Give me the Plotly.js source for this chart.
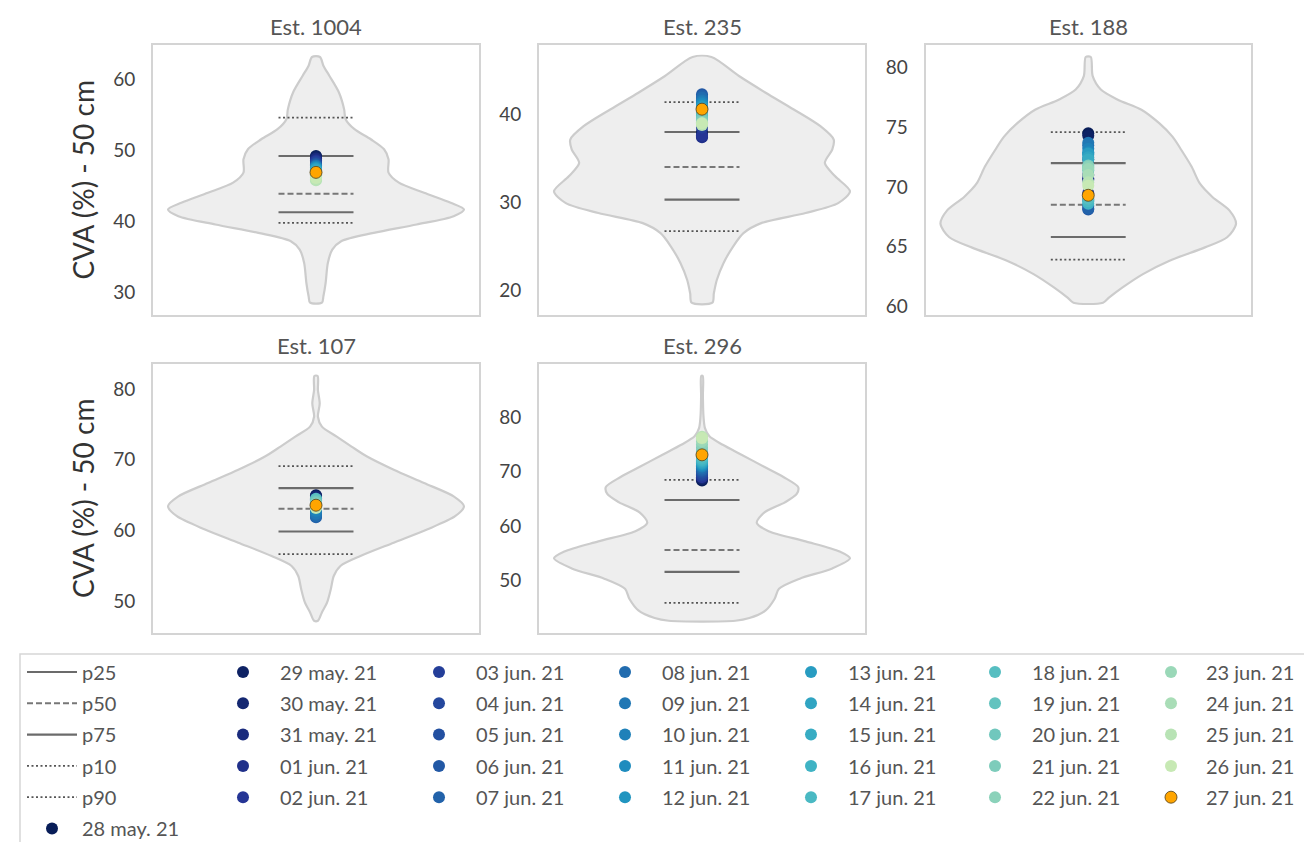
<!DOCTYPE html>
<html>
<head>
<meta charset="utf-8">
<script src="https://cdn.plot.ly/plotly-3.0.1.min.js"></script>
<style>
  html, body { margin: 0; padding: 0; background: #ffffff; }
  #chart { width: 1304px; height: 842px; }
</style>
</head>
<body>
<div id="chart"></div>
<script>
// ---- Stations and observation dates ----
const stations = ['Est. 1004', 'Est. 235', 'Est. 188', 'Est. 107', 'Est. 296'];
const dates = [
  '28 may. 21', '29 may. 21', '30 may. 21', '31 may. 21', '01 jun. 21', '02 jun. 21',
  '03 jun. 21', '04 jun. 21', '05 jun. 21', '06 jun. 21', '07 jun. 21',
  '08 jun. 21', '09 jun. 21', '10 jun. 21', '11 jun. 21', '12 jun. 21',
  '13 jun. 21', '14 jun. 21', '15 jun. 21', '16 jun. 21', '17 jun. 21',
  '18 jun. 21', '19 jun. 21', '20 jun. 21', '21 jun. 21', '22 jun. 21',
  '23 jun. 21', '24 jun. 21', '25 jun. 21', '26 jun. 21', '27 jun. 21'
];

// ---- Historical percentiles of CVA (%) at 50 cm, one value per station ----
const p10 = [39.8, 26.7, 63.9, 56.7, 45.9];
const p25 = [41.3, 30.3, 65.8, 59.9, 51.6];
const p50 = [43.9, 34.0, 68.5, 63.1, 55.6];
const p75 = [49.2, 38.0, 72.0, 66.0, 64.8];
const p90 = [54.6, 41.4, 74.6, 69.1, 68.5];

// ---- Daily CVA (%) per station, 28 may. 21 -> 27 jun. 21 ----
const cva1004 = [49.2, 49.1, 48.9, 48.8, 48.6, 48.5, 48.4, 48.2, 48.1, 48.0, 47.9,
                 47.8, 47.8, 47.7, 47.6, 47.5, 47.4, 47.3, 47.1, 47.0, 46.9,
                 46.8, 46.6, 46.5, 46.3, 46.2, 46.0, 45.9, 45.8, 46.1, 46.9];
const cva235  = [38.0, 37.8, 37.6, 37.5, 37.4, 37.6, 38.5, 40.2, 41.8, 42.3, 42.1,
                 41.9, 41.6, 41.4, 41.2, 41.0, 40.9, 40.7, 40.5, 40.3, 40.1,
                 39.9, 39.7, 39.5, 39.3, 39.1, 39.0, 38.9, 38.8, 39.0, 40.6];
const cva188  = [74.5, 74.3, 72.3, 70.7, 71.0, 70.6, 69.5, 68.9, 68.4, 68.1, 68.2,
                 73.5, 73.7, 73.2, 72.9, 72.7, 72.8, 72.5, 72.3, 68.6, 68.8,
                 69.0, 71.4, 71.6, 71.8, 71.7, 71.5, 71.0, 70.4, 70.1, 69.3];
const cva107  = [65.0, 64.9, 64.8, 64.6, 64.4, 64.2, 63.8, 62.9, 62.3, 62.0, 61.9,
                 62.1, 62.4, 62.8, 63.1, 63.4, 63.7, 63.9, 64.1, 64.3, 64.4,
                 64.5, 64.3, 64.1, 63.9, 63.7, 63.5, 63.4, 63.2, 63.3, 63.6];
const cva296  = [68.4, 68.6, 68.8, 69.0, 69.2, 69.0, 69.3, 69.5, 69.8, 70.1, 70.3,
                 70.6, 70.9, 71.0, 71.2, 71.4, 71.5, 71.7, 71.9, 72.1, 72.4,
                 72.8, 73.3, 73.8, 74.4, 75.0, 75.6, 76.1, 76.4, 76.2, 73.1];

// ---- Historical distribution (kernel density) per station: CVA level and relative density ----
const kdeLevels1004  = [63.1, 61.88, 60.47, 58.12, 55.77, 54.37, 52.96, 51.55, 50.14, 48.73, 46.86,
                        45.45, 44.04, 42.63, 41.69, 40.75, 39.58, 38.4, 37.23, 36.06, 34.18, 31.37, 29.5, 28.6];
const kdeDensity1004 = [0.027, 0.05, 0.09, 0.155, 0.19, 0.20, 0.26, 0.37, 0.46, 0.49, 0.49,
                        0.56, 0.73, 0.91, 1.0, 0.93, 0.68, 0.39, 0.17, 0.11, 0.08, 0.065, 0.05, 0.04];

const kdeLevels235   = [46.55, 44.38, 42.48, 40.57, 38.66, 37.14, 36.0, 34.48, 32.95, 31.24,
                        29.9, 28.77, 27.62, 26.48, 24.95, 23.05, 21.14, 19.62, 18.55];
const kdeDensity235  = [0.064, 0.25, 0.43, 0.62, 0.80, 0.89, 0.88, 0.83, 0.90, 1.0,
                        0.92, 0.70, 0.40, 0.28, 0.21, 0.145, 0.10, 0.08, 0.07];

const kdeLevels188   = [80.9, 79.29, 78.17, 77.32, 76.48, 75.35, 74.22, 73.1, 71.69, 70.29,
                        69.16, 68.03, 66.91, 65.78, 64.93, 63.81, 62.69, 61.55, 60.71, 60.29];
const kdeDensity188  = [0.017, 0.03, 0.085, 0.20, 0.36, 0.48, 0.57, 0.63, 0.70, 0.755,
                        0.84, 0.955, 1.0, 0.94, 0.79, 0.55, 0.37, 0.23, 0.14, 0.10];

const kdeLevels107   = [81.82, 79.82, 77.95, 76.07, 74.67, 73.27, 71.87, 70.46, 68.6, 66.73, 64.85,
                        63.45, 62.05, 60.18, 58.32, 56.44, 55.04, 53.63, 51.77, 49.9, 48.5, 47.32];
const kdeDensity107  = [0.011, 0.013, 0.025, 0.013, 0.04, 0.14, 0.24, 0.345, 0.525, 0.73, 0.93,
                        1.0, 0.94, 0.75, 0.525, 0.30, 0.165, 0.12, 0.10, 0.075, 0.04, 0.013];

const kdeLevels296   = [87.6, 83.9, 80.2, 78.0, 76.5, 74.95, 73.08, 70.9, 69.03, 67.16, 65.92,
                        64.36, 62.49, 60.62, 59.07, 57.2, 55.33, 54.08, 52.21, 50.34, 48.47,
                        46.6, 44.5, 43.1, 42.6];
const kdeDensity296  = [0.005, 0.006, 0.01, 0.02, 0.05, 0.14, 0.27, 0.42, 0.55, 0.65, 0.64,
                        0.56, 0.42, 0.37, 0.45, 0.70, 0.93, 1.0, 0.88, 0.66, 0.52,
                        0.49, 0.43, 0.32, 0.225];

// ---- Assemble per-station series ----
const dailyValues = [cva1004, cva235, cva188, cva107, cva296];
const kdeLevels   = [kdeLevels1004, kdeLevels235, kdeLevels188, kdeLevels107, kdeLevels296];
const kdeDensity  = [kdeDensity1004, kdeDensity235, kdeDensity188, kdeDensity107, kdeDensity296];
const tickSteps   = [10, 10, 5, 10, 10];

// ---- Styling ----
const FONT = 'Lato, "Open Sans", sans-serif';
const W = 1304, H = 842;
const VIOLIN_HALF = 0.454;   // half width of the widest part of a violin (x units)
const PCT_HALF = 0.115;      // half length of percentile bars (x units)

// panel frames in pixels [left, right, top, bottom]
const frames = [
  [153, 479, 44.7, 315], [539, 865, 44.7, 315], [925.5, 1251, 44.7, 315],
  [153, 479, 363.7, 633], [539, 865, 363.7, 633]
];

const ramp = ['#081d58', '#253494', '#225ea8', '#1d91c0', '#41b6c4', '#7fcdbb', '#c7e9b4', '#edf8b1', '#ffffd9'];
function hexToRgb(h) { return [1, 3, 5].map(i => parseInt(h.slice(i, i + 2), 16)); }
function rampColor(t) {
  const s = t * (ramp.length - 1);
  const k = Math.min(Math.floor(s), ramp.length - 2);
  const f = s - k;
  const a = hexToRgb(ramp[k]), b = hexToRgb(ramp[k + 1]);
  const c = a.map((v, j) => Math.round(v + (b[j] - v) * f));
  return 'rgb(' + c.join(',') + ')';
}
const dateColors = dates.map((d, i) => i === dates.length - 1 ? '#ffa500' : rampColor(i / (dates.length - 2) * 0.75));

function axisName(k, letter) { return k === 0 ? letter : letter + (k + 1); }
function legendFor(i) { return i === 0 ? 'legend' : 'legend' + (2 + Math.floor((i - 1) / 5)); }

const traces = [];

// violin bodies
stations.forEach((st, k) => {
  const lv = kdeLevels[k], dn = kdeDensity[k];
  const xs = dn.map(v => v * VIOLIN_HALF).concat(dn.slice().reverse().map(v => -v * VIOLIN_HALF));
  const ys = lv.concat(lv.slice().reverse());
  xs.push(xs[0]); ys.push(ys[0]);
  traces.push({
    type: 'scatter', mode: 'lines', x: xs, y: ys,
    xaxis: axisName(k, 'x'), yaxis: axisName(k, 'y'),
    fill: 'toself', fillcolor: '#eeeeee',
    line: { color: '#cccccc', width: 2.2, shape: 'spline', smoothing: 0.8 },
    showlegend: false, hoverinfo: 'skip'
  });
});

// percentile bars
const pctDefs = [
  { name: 'p25', vals: p25, line: { color: '#6b6b6b', width: 2.2, dash: 'solid' } },
  { name: 'p50', vals: p50, line: { color: '#777777', width: 2, dash: '6px,3px' } },
  { name: 'p75', vals: p75, line: { color: '#6b6b6b', width: 2.2, dash: 'solid' } },
  { name: 'p10', vals: p10, line: { color: '#555555', width: 1.8, dash: '2px,2.5px' } },
  { name: 'p90', vals: p90, line: { color: '#555555', width: 1.8, dash: '2px,2.5px' } }
];
pctDefs.forEach(p => {
  stations.forEach((st, k) => {
    traces.push({
      type: 'scatter', mode: 'lines',
      x: [-PCT_HALF, PCT_HALF], y: [p.vals[k], p.vals[k]],
      xaxis: axisName(k, 'x'), yaxis: axisName(k, 'y'),
      line: p.line, name: p.name, legendgroup: p.name, legend: 'legend',
      showlegend: k === 0, hoverinfo: 'skip'
    });
  });
});

// daily observations
dates.forEach((d, i) => {
  const last = i === dates.length - 1;
  stations.forEach((st, k) => {
    traces.push({
      type: 'scatter', mode: 'markers',
      x: [0], y: [dailyValues[k][i]],
      xaxis: axisName(k, 'x'), yaxis: axisName(k, 'y'),
      marker: {
        size: 12, color: dateColors[i], opacity: 1,
        line: last ? { color: 'rgba(90,70,30,0.85)', width: 1 } : { width: 0 }
      },
      name: d, legendgroup: d, legend: legendFor(i),
      showlegend: k === 0, hoverinfo: 'skip'
    });
  });
});

// layout: axes
const layout = {
  width: W, height: H,
  margin: { l: 0, r: 0, t: 0, b: 0, autoexpand: false },
  paper_bgcolor: '#ffffff', plot_bgcolor: '#ffffff',
  font: { family: FONT, color: '#444444', size: 19 },
  showlegend: true,
  annotations: [],
  shapes: []
};

stations.forEach((st, k) => {
  const f = frames[k];
  const lv = kdeLevels[k];
  const lo = Math.min.apply(null, lv), hi = Math.max.apply(null, lv);
  const pad = (hi - lo) * 0.05;
  const xa = {
    domain: [f[0] / W, f[1] / W], range: [-0.5, 0.5],
    anchor: axisName(k, 'y'),
    showgrid: false, zeroline: false, showticklabels: false, ticks: '',
    showline: true, mirror: true, linecolor: '#d4d4d4', linewidth: 2, fixedrange: true
  };
  const ya = {
    domain: [1 - f[3] / H, 1 - f[2] / H], range: [lo - pad, hi + pad],
    anchor: axisName(k, 'x'),
    dtick: tickSteps[k], tick0: 0,
    showgrid: false, zeroline: false, ticks: '', ticklabelstandoff: 12,
    tickfont: { family: FONT, size: 19, color: '#444444' },
    showline: true, mirror: true, linecolor: '#d4d4d4', linewidth: 2, fixedrange: true
  };
  if (k === 0 || k === 3) {
    ya.title = { text: 'CVA (%) - 50 cm', font: { family: FONT, size: 28, color: '#333333' }, standoff: 10 };
  }
  layout[k === 0 ? 'xaxis' : 'xaxis' + (k + 1)] = xa;
  layout[k === 0 ? 'yaxis' : 'yaxis' + (k + 1)] = ya;

  layout.annotations.push({
    text: st, xref: 'paper', yref: 'paper',
    x: (f[0] + f[1]) / 2 / W, y: 1 - f[2] / H,
    xanchor: 'center', yanchor: 'bottom', yshift: 3, showarrow: false,
    font: { family: FONT, size: 22, color: '#555555' }
  });
});

// legend frame
layout.shapes.push({
  type: 'rect', xref: 'paper', yref: 'paper',
  x0: 20 / W, x1: 1.02, y0: -0.05, y1: 1 - 654 / H,
  line: { color: '#d6d6d6', width: 1.5 }, fillcolor: 'rgba(0,0,0,0)', layer: 'below'
});

// legend columns
const legendTop = 1 - 652.5 / H;
const legendCols = [
  { key: 'legend',  x: 22,   itemwidth: 50 },
  { key: 'legend2', x: 206,  itemwidth: 64 },
  { key: 'legend3', x: 402,  itemwidth: 64 },
  { key: 'legend4', x: 588,  itemwidth: 64 },
  { key: 'legend5', x: 774,  itemwidth: 64 },
  { key: 'legend6', x: 958,  itemwidth: 64 },
  { key: 'legend7', x: 1136, itemwidth: 60 }
];
legendCols.forEach(c => {
  layout[c.key] = {
    x: c.x / W, y: legendTop, xref: 'paper', yref: 'paper',
    xanchor: 'left', yanchor: 'top', orientation: 'v',
    bgcolor: 'rgba(0,0,0,0)', borderwidth: 0,
    itemwidth: c.itemwidth, tracegroupgap: 2.3, traceorder: 'grouped',
    font: { family: FONT, size: 20, color: '#555555' }
  };
});

Plotly.newPlot('chart', traces, layout, { displayModeBar: false, staticPlot: true });
</script>
</body>
</html>
